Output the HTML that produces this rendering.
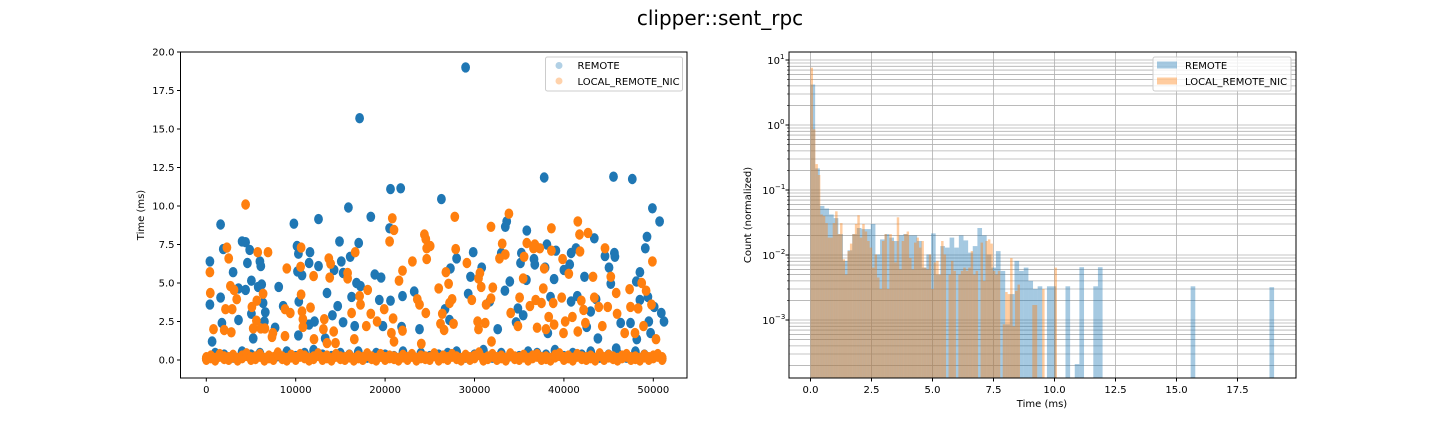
<!DOCTYPE html>
<html><head><meta charset="utf-8"><style>
html,body{margin:0;padding:0;background:#fff;}
svg{display:block;font-family:"DejaVu Sans","Liberation Sans",sans-serif;}
</style></head><body>
<svg id="fig" width="1440" height="432" viewBox="0 0 1440 432" xmlns="http://www.w3.org/2000/svg">
<text x="720" y="25" font-size="20" text-anchor="middle" fill="#000">clipper::sent_rpc</text>
<g id="left"></g>
<g id="right"></g>
</svg>
<script>
// ---------- scatter data (x in thousands of samples, y in ms) ----------
const remoteX = [0.4,0.4,0.65,1.6,1.6,1.9,1.75,3.0,3.6,3.6,4.0,4.4,4.4,4.6,4.85,5.05,5.05,5.25,5.8,6.0,6.1,6.2,6.35,6.5,6.6,7.7,8.1,8.6,9.8,10.15,10.3,10.2,10.35,10.3,10.7,11.5,11.6,11.5,12.1,12.55,12.55,13.5,13.3,14.1,14.3,14.7,14.9,15.1,15.3,15.3,16.1,15.9,16.25,16.6,16.8,17.05,17.15,17.25,18.4,18.85,19.55,19.35,19.75,20.5,20.6,20.6,21.75,21.95,21.85,23.25,23.85,26.3,26.7,27.2,27.3,28.0,29.0,29.3,29.55,29.85,30.8,31.7,32.6,33.0,33.45,33.6,33.4,33.95,34.65,34.85,35.15,35.25,35.45,35.8,35.85,36.65,36.75,37.8,38.1,37.9,38.2,38.5,38.9,39.1,40.0,40.65,40.8,40.8,41.35,41.5,42.3,42.55,43.4,43.0,43.6,43.8,44.6,45.05,45.25,45.55,45.65,45.7,45.85,46.35,47.65,47.45,48.15,48.1,48.5,48.5,49.1,49.3,49.4,49.5,49.7,49.9,50.1,50.7,50.9,51.2];
const remoteY = [6.4,3.6,1.2,8.8,4.05,7.2,2.4,5.7,2.6,4.65,7.7,7.65,4.55,6.3,7.15,5.15,3.0,1.4,4.75,6.4,6.1,4.9,3.7,2.5,3.1,2.1,4.75,3.5,8.85,7.4,6.9,5.75,3.8,1.6,5.5,6.3,7.0,2.3,2.5,9.15,6.1,4.35,1.4,2.9,5.85,3.5,7.7,6.4,5.65,2.45,6.7,9.9,4.1,2.2,5.0,7.6,15.7,4.8,9.3,5.55,5.35,3.9,2.2,8.55,11.1,3.85,11.15,4.15,2.15,4.45,2.0,10.45,3.3,2.6,5.95,6.6,19.0,4.3,5.4,7.0,6.0,3.8,2.0,6.95,8.65,9.0,4.5,5.1,2.45,3.35,6.3,6.95,2.9,5.2,8.4,6.55,6.2,11.85,7.5,6.0,1.75,4.1,5.25,7.1,5.85,6.2,6.95,3.8,7.25,4.15,5.4,2.15,7.9,3.15,3.95,1.4,6.75,6.0,4.95,11.9,6.95,6.7,0.75,2.4,11.75,2.4,1.35,5.1,5.7,3.9,7.25,8.0,4.1,2.5,1.75,9.85,3.45,9.0,3.05,2.5];
const localX = [0.4,0.45,0.8,2.0,2.3,2.15,2.5,2.7,2.8,2.9,3.1,3.4,5.1,5.25,5.6,5.65,5.75,6.1,6.35,6.55,6.9,4.4,7.35,7.45,8.8,8.8,9.0,9.4,10.6,10.55,10.6,10.7,10.8,10.8,11.65,12.0,12.05,13.1,13.2,13.5,13.7,13.9,13.8,14.25,14.45,15.8,15.8,16.25,16.55,16.65,17.15,17.25,17.9,18.05,18.4,19.1,19.9,20.5,20.7,20.8,20.9,21.0,21.0,21.55,21.95,21.95,23.05,23.6,23.85,24.05,24.4,24.55,24.65,24.65,25.05,24.55,26.0,26.2,26.4,26.6,26.8,27.1,27.2,27.5,27.65,27.8,27.9,29.15,29.7,30.35,30.45,30.6,30.75,30.45,31.3,31.2,31.85,31.85,31.9,32.05,32.8,33.1,33.45,33.85,34.05,34.85,35.05,35.45,35.55,35.85,36.2,36.6,36.75,36.85,37.0,37.3,37.5,37.7,37.8,38.0,38.3,38.6,38.6,38.8,38.9,39.75,39.85,40.15,39.95,40.55,40.95,41.55,41.55,41.75,41.8,41.95,42.2,42.4,42.7,43.25,43.4,43.9,44.3,44.6,44.9,45.25,45.85,45.95,46.8,47.35,47.45,47.95,48.3,48.7,48.9,49.2,49.8,49.9,50.3];
const localY = [5.7,4.35,2.0,1.95,7.3,3.3,6.6,4.8,1.8,3.3,4.55,3.95,3.45,2.05,2.55,3.85,7.0,2.05,4.3,2.05,7.0,10.1,1.5,1.75,1.55,3.3,5.95,3.05,7.3,6.05,4.25,3.15,2.65,2.15,3.4,5.45,1.35,2.0,2.65,1.1,6.6,6.25,5.35,1.85,1.1,5.65,5.3,3.05,1.35,7.0,4.15,3.6,2.2,4.55,3.0,2.5,3.3,7.7,1.75,9.2,2.7,8.45,1.2,5.15,5.8,1.9,6.4,3.95,3.6,1.05,8.15,7.85,7.25,6.55,7.4,3.05,4.65,2.35,3.0,1.95,5.7,4.95,3.7,3.95,2.35,9.3,7.2,6.3,3.9,2.5,2.0,5.65,4.75,5.3,3.6,2.4,8.65,4.0,1.2,4.7,6.6,7.55,6.85,9.5,3.05,2.2,4.05,5.3,6.7,7.6,3.5,7.25,7.5,3.9,2.1,7.25,3.7,4.65,5.95,2.0,2.8,8.55,7.1,3.7,2.3,4.05,6.55,2.5,1.75,5.6,2.8,9.0,1.85,8.15,7.05,3.85,3.25,2.4,8.25,5.4,4.05,3.45,2.2,7.25,3.45,5.4,4.35,3.0,1.75,4.6,3.45,1.75,3.35,5.0,2.2,4.5,3.6,6.4,1.35];
// baseline (near-zero) samples: one value per 1k (remote) and per 0.5k (local)
const remoteBaseY = [0.1,0.4,0.3,0.2,0.5,0.3,0.4,0.2,0.3,0.5,0.2,0.4,0.6,0.3,0.2,0.4,0.3,0.5,0.2,0.4,0.3,0.2,0.5,0.3,0.4,0.2,0.3,0.4,0.5,0.2,0.3,0.6,0.2,0.4,0.3,0.2,0.5,0.4,0.3,0.6,0.2,0.4,0.3,0.5,0.2,0.3,0.4,0.2,0.5,0.3,0.2,0.1];
const localBaseY = [0.1,0.2,0.05,0.3,0.15,0.1,0.25,0.05,0.2,0.35,0.1,0.15,0.3,0.05,0.2,0.1,0.4,0.15,0.05,0.25,0.1,0.3,0.2,0.05,0.15,0.35,0.1,0.2,0.05,0.3,0.15,0.1,0.25,0.05,0.2,0.1,0.35,0.15,0.05,0.3,0.1,0.2,0.15,0.05,0.25,0.1,0.3,0.05,0.2,0.15,0.1,0.35,0.05,0.2,0.1,0.3,0.15,0.05,0.25,0.1,0.2,0.4,0.05,0.15,0.3,0.1,0.2,0.05,0.35,0.15,0.1,0.25,0.05,0.2,0.3,0.1,0.15,0.05,0.25,0.35,0.1,0.2,0.05,0.3,0.15,0.1,0.2,0.05,0.35,0.1,0.25,0.15,0.05,0.2,0.3,0.1,0.15,0.05,0.25,0.1,0.2,0.3,0.1];
const scatterXTicks = [0,10000,20000,30000,40000,50000];
const scatterYTicks = [0,2.5,5,7.5,10,12.5,15,17.5,20];

// ---------- histogram data (density) ----------
const remoteBinWidth = 0.19;
const localBinWidth = 0.101;
const remoteHist = [4.2,0.215,0.057,0.052,0.042,0.037,0.021,0.0081,0.0118,0.021,0.026,0.025,0.025,0.030,0.0102,0.0174,0.021,0.0185,0.0164,0.020,0.021,0.020,0.020,0.0164,0.0064,0.0102,0.0215,0.005,0.0137,0.013,0.0185,0.013,0.020,0.0168,0.0109,0.0137,0.026,0.020,0.0102,0.0064,0.0115,0.0057,0.00086,0.0025,0.0081,0.0057,0.0064,0.004,0.003,0.0033,0,0.0033,0.0033,0,0,0.0033,0,0.00021,0.0065,0,0,0.0033,0.0065,0,0,0,0,0,0,0,0,0,0,0,0,0,0,0,0,0,0,0,0.0033,0,0,0,0,0,0,0,0,0,0,0,0,0,0,0,0,0.0032];
const localHist = [7.6,0.86,0.25,0.17,0.042,0.04,0.031,0.0185,0.0185,0.031,0.047,0.021,0.031,0.0086,0.005,0.0115,0.015,0.021,0.030,0.041,0.0185,0.030,0.023,0.0164,0.013,0.0064,0.0102,0.0045,0.003,0.0164,0.021,0.003,0.021,0.0164,0.0077,0.038,0.006,0.0164,0.021,0.023,0.009,0.006,0.0155,0.0185,0.013,0.0164,0.0064,0.006,0.0102,0.003,0.0077,0.0081,0.005,0.0164,0.0102,0,0.005,0.0081,0.0057,0,0.005,0.0057,0.0064,0.0057,0.0064,0.0115,0.005,0.0057,0,0.0155,0.004,0.0164,0.0174,0.015,0.0057,0.005,0.0057,0,0.00086,0.0027,0.0025,0.009,0.0008,0.0028,0.0035,0,0,0,0,0,0.0017,0.0017,0,0,0.003,0,0,0,0,0.0064];
const histXTicks = [0,2.5,5,7.5,10,12.5,15,17.5];
const histYDecades = [-3,-2,-1,0,1];

const NS = 'http://www.w3.org/2000/svg';
function mk(tag, attrs, parent){ const e=document.createElementNS(NS,tag); for(const k in attrs) e.setAttribute(k,attrs[k]); parent.appendChild(e); return e; }

// ---------- scatter ----------
const L = {x0:180.5, x1:687, y0:52, y1:378};
const sx = v => 206.3 + v*0.00894;
const sy = v => 360 - v*15.4;
const left = document.getElementById('left');
const clipL = mk('clipPath',{id:'clipL'},left);
mk('rect',{x:L.x0,y:L.y0,width:L.x1-L.x0,height:L.y1-L.y0},clipL);
const ptsG = mk('g',{'clip-path':'url(#clipL)'},left);


function dot(x,y,color,name,ry){
  const c = mk('ellipse',{cx:sx(x).toFixed(1),cy:sy(y).toFixed(1),rx:4.4,ry:ry,fill:color},ptsG);
  
  
}
remoteBaseY.forEach((v,i)=>dot(i*1000,v,'#1f77b4','remote-point',6));
remoteX.forEach((x,i)=>dot(x*1000,remoteY[i],'#1f77b4','remote-point',5.2));
localBaseY.forEach((v,i)=>dot(i*500,v,'#ff7f0e','local-point',6.5));
localX.forEach((x,i)=>dot(x*1000,localY[i],'#ff7f0e','local-point',5.2));
const frameL = mk('rect',{x:L.x0,y:L.y0,width:L.x1-L.x0,height:L.y1-L.y0,fill:'none',stroke:'#000','stroke-width':1},left);


scatterXTicks.forEach(t=>{
  const x=sx(t);
  mk('line',{x1:x,y1:L.y1,x2:x,y2:L.y1+3.5,stroke:'#000'},left);
  const tx=mk('text',{x:x,y:L.y1+15,'font-size':10,'text-anchor':'middle'},left);
  tx.textContent=String(t);
  
  
});
scatterYTicks.forEach(t=>{
  const y=sy(t);
  mk('line',{x1:L.x0-3.5,y1:y,x2:L.x0,y2:y,stroke:'#000'},left);
  const tx=mk('text',{x:L.x0-6,y:y+3.5,'font-size':10,'text-anchor':'end'},left);
  tx.textContent=t.toFixed(1);
  
  
});
const ylabL = mk('text',{x:0,y:0,'font-size':10,'text-anchor':'middle',transform:'translate(144,215) rotate(-90)'},left);
ylabL.textContent='Time (ms)';


// legend
const lgL = mk('g',{},left);


mk('rect',{x:545.5,y:57,width:137,height:34,rx:2,fill:'#fff','fill-opacity':0.8,stroke:'#ccc'},lgL);
mk('circle',{cx:559,cy:65.5,r:3.5,fill:'#1f77b4','fill-opacity':0.35},lgL);
mk('circle',{cx:559,cy:81,r:3.5,fill:'#ff7f0e','fill-opacity':0.35},lgL);
const le1=mk('text',{x:577.5,y:69,'font-size':10},lgL); le1.textContent='REMOTE';
 
const le2=mk('text',{x:577.5,y:85,'font-size':10},lgL); le2.textContent='LOCAL_REMOTE_NIC';
 

// ---------- histogram ----------
const R = {x0:789, x1:1296, y0:52, y1:378};
const hx = v => 810.5 + v*24.4;
const hy = v => 125 - Math.log10(v)*65;
const right = document.getElementById('right');
const clipR = mk('clipPath',{id:'clipR'},right);
mk('rect',{x:R.x0,y:R.y0,width:R.x1-R.x0,height:R.y1-R.y0},clipR);
const gridG = mk('g',{'clip-path':'url(#clipR)',stroke:'#b0b0b0','stroke-width':0.8},right);


histXTicks.forEach(t=>mk('line',{x1:hx(t),y1:R.y0,x2:hx(t),y2:R.y1},gridG));
[-4,-3,-2,-1,0,1].forEach(d=>{
  for(let m=1;m<=9;m++){
    const y=hy(m*Math.pow(10,d));
    if(y>R.y0 && y<R.y1) mk('line',{x1:R.x0,y1:y,x2:R.x1,y2:y},gridG);
  }
});
const barsG = mk('g',{'clip-path':'url(#clipR)'},right);
function bars(arr,w,color,name){
  arr.forEach((v,i)=>{
    if(v<=0) return;
    const x=hx(i*w), x2=hx((i+1)*w), y=hy(v);
    const r=mk('rect',{x:x.toFixed(2),y:y.toFixed(1),width:(x2-x).toFixed(2),height:(R.y1-y+2).toFixed(1),fill:color,'fill-opacity':0.4},barsG);
    
    
  });
}
bars(remoteHist,remoteBinWidth,'#1f77b4','remote-bar');
bars(localHist,localBinWidth,'#ff7f0e','local-bar');
const frameR = mk('rect',{x:R.x0,y:R.y0,width:R.x1-R.x0,height:R.y1-R.y0,fill:'none',stroke:'#000','stroke-width':1},right);


histXTicks.forEach(t=>{
  const x=hx(t);
  mk('line',{x1:x,y1:R.y1,x2:x,y2:R.y1+3.5,stroke:'#000'},right);
  const tx=mk('text',{x:x,y:R.y1+15,'font-size':10,'text-anchor':'middle'},right);
  tx.textContent=t.toFixed(1);
  
  
});
histYDecades.forEach(d=>{
  const y=hy(Math.pow(10,d));
  mk('line',{x1:R.x0-3.5,y1:y,x2:R.x0,y2:y,stroke:'#000'},right);
  const tx=mk('text',{x:R.x0-6-(d<0?8:3),y:y+4,'font-size':10,'text-anchor':'end'},right);
  tx.textContent='10';
  
  
  const sp=mk('text',{x:R.x0-6-(d<0?8:3),y:y-1,'font-size':7,'text-anchor':'start'},right);
  sp.textContent=(d<0?'\u2212'+(-d):String(d));
  
  
  for(let m=2;m<=9;m++){
    const ym=hy(m*Math.pow(10,d));
    if(ym>R.y0&&ym<R.y1) mk('line',{x1:R.x0-2,y1:ym,x2:R.x0,y2:ym,stroke:'#000','stroke-width':0.6},right);
  }
});
const xlabR = mk('text',{x:1042,y:407,'font-size':10,'text-anchor':'middle'},right);
xlabR.textContent='Time (ms)';


const ylabR = mk('text',{x:0,y:0,'font-size':10,'text-anchor':'middle',transform:'translate(751,215) rotate(-90)'},right);
ylabR.textContent='Count (normalized)';


const lgR = mk('g',{},right);


mk('rect',{x:1153,y:57,width:138,height:34,rx:2,fill:'#fff','fill-opacity':0.8,stroke:'#ccc'},lgR);
mk('rect',{x:1157,y:61.5,width:20,height:7,fill:'#1f77b4','fill-opacity':0.4},lgR);
mk('rect',{x:1157,y:77.5,width:20,height:7,fill:'#ff7f0e','fill-opacity':0.4},lgR);
const r1=mk('text',{x:1185,y:69,'font-size':10},lgR); r1.textContent='REMOTE';
 
const r2=mk('text',{x:1185,y:85,'font-size':10},lgR); r2.textContent='LOCAL_REMOTE_NIC';
 
</script>
</body></html>
